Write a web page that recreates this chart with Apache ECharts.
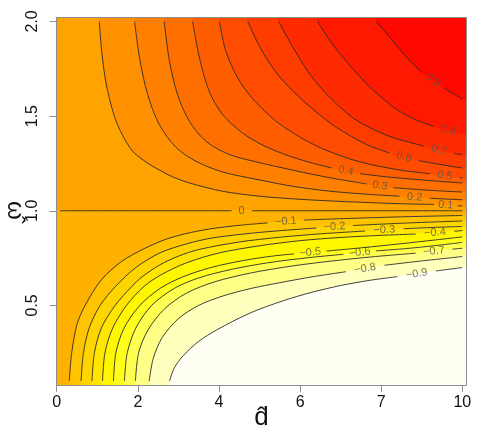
<!DOCTYPE html>
<html>
<head>
<meta charset="utf-8">
<script src="https://cdn.jsdelivr.net/npm/echarts@6/dist/echarts.min.js"></script>
<style>
  html, body { margin: 0; padding: 0; background: #fff; }
  #chart { width: 478px; height: 438px; }
</style>
</head>
<body>
<div id="chart"></div>
<script>
// tick positions and the labels printed under them (the 8 tick is printed "7" in the source)
const xTicks = [0, 2, 4, 6, 8, 10];
const xTickLabels = ['0', '2', '4', '6', '7', '10'];
const yTicks = [0.5, 1.0, 1.5, 2.0];
const yTickLabels = ['0.5', '1.0', '1.5', '2.0'];

// contour lines, [d, omega]; null marks the gap for the label
const c_p09 = [[7.87,2.0],[8.1,1.945],[8.38,1.873],[8.71,1.792],[9.0,1.732],null,[9.55,1.648],[10,1.59]];
const c_p08 = [[6.43,2.0],[6.7,1.91],[6.98,1.83],[7.3,1.75],[7.64,1.67],[8.0,1.60],[8.38,1.535],[8.88,1.478],[9.29,1.446],null,[10,1.405]];
const c_p07 = [[5.47,2.0],[5.835,1.86],[6.245,1.72],[6.74,1.597],[7.31,1.49],[7.81,1.43],[8.3,1.386],[9.05,1.342],null,[9.8,1.302],[10,1.297]];
const c_p06 = [[4.71,2.0],[4.88,1.92],[5.1,1.83],[5.45,1.72],[5.835,1.63],[6.35,1.53],[6.9,1.44],[7.64,1.35],[8.2,1.305],null,[8.92,1.265],[9.5,1.243],[10,1.226]];
const c_p05 = [[4.01,2.0],[4.17,1.842],[4.46,1.702],[4.75,1.613],[5.04,1.545],[5.4,1.474],[5.835,1.41],[6.2,1.365],[6.66,1.318],[7.48,1.258],[8.46,1.215],[9.2,1.196],null,[9.94,1.175],[10,1.173]];
const c_p04 = [[3.35,2.0],[3.52,1.807],[3.76,1.631],[4.09,1.508],[4.58,1.411],[5.04,1.351],[5.45,1.312],[5.835,1.282],[6.3,1.252],[6.78,1.226],null,[7.48,1.196],[8.1,1.18],[8.71,1.168],[9.4,1.156],[10,1.147]];
const c_p03 = [[2.65,2.0],[2.78,1.79],[2.98,1.613],[3.27,1.473],[3.68,1.367],[4.26,1.297],[5.04,1.252],[5.6,1.225],[6.245,1.195],[6.9,1.168],[7.64,1.142],null,[8.3,1.122],[9.2,1.108],[10,1.099]];
const c_p02 = [[1.92,2.0],[2.04,1.81],[2.24,1.615],[2.53,1.455],[2.94,1.335],[3.43,1.262],[4.09,1.205],[5.02,1.162],[5.8,1.13],[6.66,1.105],[7.6,1.088],[8.45,1.077],null,[9.2,1.066],[10,1.058]];
const c_p01 = [[1.05,2.0],[1.11,1.84],[1.22,1.67],[1.42,1.50],[1.62,1.40],[1.87,1.315],[2.15,1.265],[2.45,1.225],[2.85,1.18],[3.27,1.147],[4.09,1.103],[5.04,1.076],[6.2,1.058],[7.48,1.045],[8.5,1.037],[9.3,1.033],null,[9.88,1.026],[10,1.025]];
const c_0 = [[0.08,1.0],[4.31,1.0],null,[4.81,1.0],[10,1.0]];
const c_n01 = [[0.31,0.1],[0.37,0.25],[0.5,0.4],[0.7,0.5],[1.1,0.635],[1.59,0.731],[2.16,0.80],[2.7,0.85],[3.3,0.885],[3.9,0.908],[4.6,0.925],[5.2,0.936],null,[6.1,0.951],[7.0,0.958],[8.5,0.968],[10,0.975]];
const c_n02 = [[0.60,0.1],[0.66,0.25],[0.8,0.38],[1.07,0.5],[1.45,0.6],[1.95,0.7],[2.55,0.778],[3.2,0.825],[3.8,0.855],[4.6,0.877],[5.4,0.893],[6.4,0.909],null,[7.3,0.922],[8.6,0.935],[10,0.946]];
const c_n03 = [[0.87,0.1],[0.93,0.25],[1.1,0.38],[1.44,0.5],[1.85,0.6],[2.1,0.65],[2.55,0.715],[3.0,0.76],[3.5,0.795],[4.5,0.835],[5.5,0.86],[6.5,0.878],[7.6,0.893],null,[8.55,0.905],[9.3,0.912],[10,0.917]];
const c_n04 = [[1.13,0.1],[1.19,0.25],[1.38,0.38],[1.72,0.5],[2.15,0.6],[2.6,0.665],[3.2,0.725],[4.0,0.777],[5.0,0.815],[6.0,0.842],[7.0,0.859],[8.0,0.87],[8.85,0.877],null,[9.8,0.892],[10,0.895]];
const c_n05 = [[1.40,0.1],[1.46,0.25],[1.66,0.38],[2.05,0.5],[2.55,0.59],[3.1,0.65],[3.8,0.70],[4.6,0.737],[5.3,0.76],[5.85,0.772],null,[6.65,0.787],[7.5,0.804],[8.5,0.826],[9.3,0.845],[10,0.862]];
const c_n06 = [[1.67,0.1],[1.74,0.25],[1.95,0.38],[2.34,0.5],[2.9,0.59],[3.5,0.645],[4.3,0.69],[5.2,0.725],[6.2,0.752],[7.07,0.77],null,[7.87,0.788],[8.6,0.80],[9.3,0.815],[10,0.833]];
const c_n07 = [[1.94,0.1],[2.02,0.25],[2.25,0.37],[2.65,0.48],[3.2,0.565],[3.9,0.625],[4.8,0.672],[5.8,0.708],[6.8,0.735],[7.8,0.757],[8.85,0.776],null,[9.75,0.797],[10,0.802]];
const c_n08 = [[2.28,0.1],[2.38,0.22],[2.6,0.33],[3.0,0.43],[3.5,0.5],[4.1,0.55],[4.8,0.59],[5.5,0.62],[6.3,0.651],[7.13,0.678],null,[8.08,0.712],[9.0,0.735],[10,0.758]];
const c_n09 = [[2.78,0.1],[2.9,0.17],[3.12,0.235],[3.5,0.31],[3.94,0.37],[4.77,0.46],[5.59,0.525],[6.3,0.57],[7.0,0.605],[7.7,0.632],[8.4,0.652],null,[9.35,0.682],[10,0.70]];

const contours = [
  { level: 0.9, pts: c_p09 }, { level: 0.8, pts: c_p08 }, { level: 0.7, pts: c_p07 },
  { level: 0.6, pts: c_p06 }, { level: 0.5, pts: c_p05 }, { level: 0.4, pts: c_p04 },
  { level: 0.3, pts: c_p03 }, { level: 0.2, pts: c_p02 }, { level: 0.1, pts: c_p01 },
  { level: 0, pts: c_0 },
  { level: -0.1, pts: c_n01 }, { level: -0.2, pts: c_n02 }, { level: -0.3, pts: c_n03 },
  { level: -0.4, pts: c_n04 }, { level: -0.5, pts: c_n05 }, { level: -0.6, pts: c_n06 },
  { level: -0.7, pts: c_n07 }, { level: -0.8, pts: c_n08 }, { level: -0.9, pts: c_n09 }
];

const X_MIN = 0, X_MAX = 10.1, Y_MIN = 0.08, Y_MAX = 2.02;

// R heat.colors style ramp: red (1) -> orange (0) -> yellow (-0.5) -> white (-1)
function heat(f) {
  const t = (1 - f) / 2;
  let h, s;
  if (t <= 0.75) { h = 60 * t / 0.75; s = 1; }
  else { h = 60; s = Math.max(0, 1 - (t - 0.75) / 0.235); }
  const g = s * (h / 60) + 1 - s;
  const b = 1 - s;
  const hex = v => Math.round(v * 255).toString(16).padStart(2, '0');
  return '#ff' + hex(g) + hex(b);
}

// filled regions painted on top of each other, from level 0 outwards
const bands = [];
bands.push({ poly: [[X_MIN,1],[X_MAX,1],[X_MAX,Y_MAX],[X_MIN,Y_MAX]], color: heat(0.04) });
contours.filter(c => c.level > 0).reverse().forEach(c => {
  const p = c.pts.filter(q => q);
  const last = p[p.length - 1];
  bands.push({
    poly: [[p[0][0], Y_MAX]].concat(p, [[X_MAX, last[1]], [X_MAX, Y_MAX]]),
    color: heat(c.level + 0.05)
  });
});
bands.push({ poly: [[X_MIN,Y_MIN],[X_MAX,Y_MIN],[X_MAX,1],[X_MIN,1]], color: heat(-0.04) });
contours.filter(c => c.level < 0).forEach(c => {
  const p = c.pts.filter(q => q);
  const last = p[p.length - 1];
  bands.push({
    poly: [[p[0][0], Y_MIN]].concat(p, [[X_MAX, last[1]], [X_MAX, Y_MIN]]),
    color: heat(c.level - 0.05)
  });
});

const levelText = v => v === 0 ? '0' : (v < 0 ? '\u2212' + (-v).toFixed(1) : v.toFixed(1));
const pick = (ticks, labels) => v => {
  const i = ticks.findIndex(t => Math.abs(t - v) < 1e-6);
  return i < 0 ? '' : labels[i];
};

const chart = echarts.init(document.getElementById('chart'));
const font = '"Liberation Sans", Arial, sans-serif';
const boxColor = '#8e8e8e';

const series = [{
  type: 'custom',
  silent: true,
  clip: true,
  z: 1,
  data: bands.map(b => b.poly[0]),
  renderItem: (params, api) => {
    const b = bands[params.dataIndex];
    return {
      type: 'polygon',
      shape: { points: b.poly.map(p => api.coord(p)) },
      style: { fill: b.color, stroke: b.color, lineWidth: 0.5 }
    };
  }
}];

contours.forEach(c => {
  let seg = [];
  const segs = [];
  c.pts.forEach(p => {
    if (p === null) { segs.push(seg); seg = []; } else seg.push(p);
  });
  segs.push(seg);
  segs.filter(s => s.length > 1).forEach(s => {
    series.push({
      type: 'line',
      data: s,
      smooth: 0.3,
      symbol: 'none',
      silent: true,
      z: 3,
      lineStyle: { color: '#2b2b2b', width: 0.9 }
    });
  });
});

const option = {
  animation: false,
  backgroundColor: '#fff',
  grid: { left: 56.7, right: 11.6, top: 17.7, bottom: 53.1, outerBoundsMode: 'none', containLabel: false },
  xAxis: [{
    type: 'value', min: X_MIN, max: X_MAX, z: 10,
    axisLine: { show: true, onZero: false, lineStyle: { color: boxColor, width: 1 } },
    axisTick: { show: true, length: 7, customValues: xTicks, lineStyle: { color: boxColor } },
    axisLabel: {
      customValues: xTicks, margin: 10, color: '#111', fontSize: 16, fontFamily: font,
      formatter: pick(xTicks, xTickLabels)
    },
    splitLine: { show: false },
    name: 'd\u0302', nameLocation: 'middle', nameGap: 20, nameMoveOverlap: false,
    nameTextStyle: { fontSize: 26, fontFamily: font, color: '#111' }
  }, {
    type: 'value', min: X_MIN, max: X_MAX, position: 'top', z: 10,
    axisLine: { show: true, onZero: false, lineStyle: { color: boxColor, width: 1 } },
    axisTick: { show: false }, axisLabel: { show: false }, splitLine: { show: false }
  }],
  yAxis: [{
    type: 'value', min: Y_MIN, max: Y_MAX, z: 10,
    axisLine: { show: true, onZero: false, lineStyle: { color: boxColor, width: 1 } },
    axisTick: { show: true, length: 7, customValues: yTicks, lineStyle: { color: boxColor } },
    axisLabel: {
      customValues: yTicks, rotate: 90, margin: 16, color: '#111', fontSize: 16, fontFamily: font,
      formatter: pick(yTicks, yTickLabels)
    },
    splitLine: { show: false },
    name: '\u03c9\u0302', nameLocation: 'middle', nameGap: 30, nameRotate: -90, nameMoveOverlap: false,
    nameTextStyle: { fontSize: 24, fontFamily: font, color: '#111', padding: [0, 0, 0, 18] }
  }, {
    type: 'value', min: Y_MIN, max: Y_MAX, position: 'right', z: 10,
    axisLine: { show: true, onZero: false, lineStyle: { color: boxColor, width: 1 } },
    axisTick: { show: false }, axisLabel: { show: false }, splitLine: { show: false }
  }],
  series: series
};
chart.setOption(option);

// contour labels sit in the gap of each line, turned along it
const labelData = [];
contours.forEach(c => {
  const k = c.pts.indexOf(null);
  if (k < 0) return;
  const a = c.pts[k - 1], b = c.pts[k + 1];
  const pa = chart.convertToPixel({ gridIndex: 0 }, a);
  const pb = chart.convertToPixel({ gridIndex: 0 }, b);
  const ang = -Math.atan2(pb[1] - pa[1], pb[0] - pa[0]) * 180 / Math.PI;
  labelData.push({
    value: [(a[0] + b[0]) / 2, (a[1] + b[1]) / 2],
    name: levelText(c.level),
    label: { rotate: ang }
  });
});
series.push({
  type: 'scatter',
  symbolSize: 0,
  silent: true,
  z: 4,
  data: labelData,
  label: {
    show: true, position: 'inside', formatter: '{b}',
    fontSize: 11, fontFamily: font, color: '#5a5148'
  }
});
chart.setOption({ series: series });
</script>
</body>
</html>
